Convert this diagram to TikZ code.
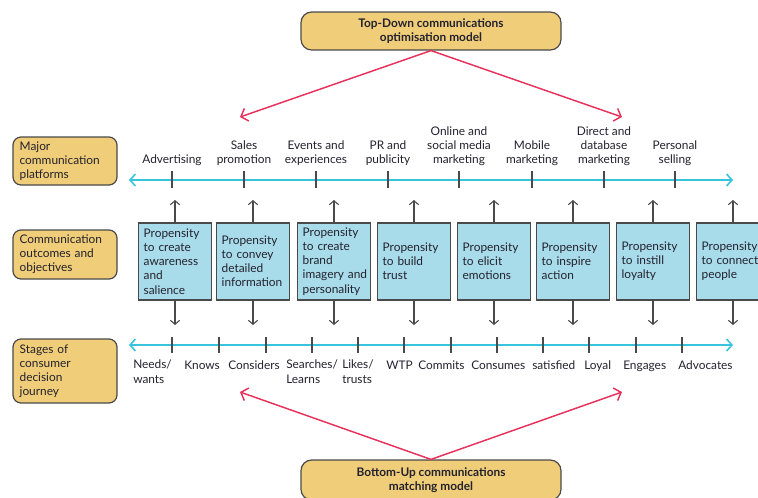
\documentclass[tikz,border=0pt]{standalone}
\usepackage{fontspec}
\setmainfont{Lato}
\usetikzlibrary{arrows.meta}
\definecolor{ybox}{HTML}{F0CD78}
\definecolor{bluebox}{HTML}{A9DCEA}
\definecolor{cyanl}{HTML}{38C4DC}
\definecolor{redl}{HTML}{E6325A}
\definecolor{txt}{HTML}{23222E}
\definecolor{bord}{HTML}{4A4A4A}
\begin{document}
\begin{tikzpicture}[x=0.75pt,y=-0.75pt,
  every node/.style={font=\fontsize{8.9}{10.6}\selectfont, text=txt},
  ylabel/.style={draw=bord, line width=0.9pt, fill=ybox, rounded corners=6pt,
    minimum width=78pt, text width=68pt, inner xsep=5pt, align=left},
  topbox/.style={draw=bord, line width=0.9pt, fill=ybox, rounded corners=8pt,
    minimum width=195pt, align=center, font=\bfseries\fontsize{8.9}{10.6}\selectfont},
  propbox/.style={draw=bord, line width=0.9pt, fill=bluebox, minimum width=54.75pt,
    minimum height=57.75pt, text width=47pt, inner xsep=3.8pt, align=left},
  axis/.style={draw=cyanl, line width=1.2pt,
    {Straight Barb[length=4pt,width=9pt]}-{Straight Barb[length=4pt,width=9pt]}},
  tick/.style={draw=bord, line width=0.8pt},
  vlink/.style={draw=bord, line width=0.8pt, -{Straight Barb[length=3pt,width=7pt]}},
  redarrow/.style={draw=redl, line width=1.1pt, -{Straight Barb[length=4.5pt,width=10pt]}},
  plat/.style={anchor=south, align=center, inner sep=0pt},
  stage/.style={anchor=base west, align=left, inner sep=0pt}
]
\useasboundingbox (0,0) rectangle (758,497);
\clip (0,0) rectangle (758,497);

% top and bottom model boxes
\node[topbox, minimum height=28.5pt] (top) at (431,31) {Top-Down communications\\optimisation model};
\node[topbox, minimum height=30pt] (bot) at (431,480) {Bottom-Up communications\\matching model};

% left category boxes
\node[ylabel, minimum height=36pt] (lab1) at (65,161) {Major\\communication\\platforms};
\node[ylabel, minimum height=36.75pt] (lab2) at (65,254.5) {Communication\\outcomes and\\objectives};
\node[ylabel, minimum height=48pt] (lab3) at (65,371) {Stages of\\consumer\\decision\\journey};

% top axis
\coordinate (a1l) at (129,180);
\coordinate (a1r) at (733,180);
\draw[axis] (a1l) -- (a1r);
\foreach \x/\n in {172/p1,244/p2,316/p3,388/p4,459/p5,532/p6,604/p7,675/p8}{
  \coordinate (\n t) at (\x,171);
  \coordinate (\n b) at (\x,188);
  \draw[tick] (\n t) -- (\n b);
}
\node[plat] (t1) at (172,166) {Advertising};
\node[plat] (t2) at (244,166) {Sales\\promotion};
\node[plat] (t3) at (316,166) {Events and\\experiences};
\node[plat] (t4) at (388,166) {PR and\\publicity};
\node[plat] (t5) at (459,166) {Online and\\social media\\marketing};
\node[plat] (t6) at (532,166) {Mobile\\marketing};
\node[plat] (t7) at (604,166) {Direct and\\database\\marketing};
\node[plat] (t8) at (675,166) {Personal\\selling};

% propensity boxes
\node[propbox] (b1) at (175,261.5) {Propensity\\to create\\awareness\\and\\salience};
\node[propbox] (b2) at (253,261.5) {Propensity\\to convey\\detailed\\information};
\node[propbox] (b3) at (334,261.5) {Propensity\\to create\\brand\\\mbox{imagery and}\\personality};
\node[propbox] (b4) at (414,261.5) {Propensity\\to build\\trust};
\node[propbox] (b5) at (494,261.5) {Propensity\\to elicit\\emotions};
\node[propbox] (b6) at (573,261.5) {Propensity\\to inspire\\action};
\node[propbox] (b7) at (653,261.5) {Propensity\\to instill\\loyalty};
\node[propbox] (b8) at (733,261.5) {Propensity\\to connect\\people};
\foreach \i/\x in {1/175,2/253,3/334,4/414,5/494,6/573,7/653,8/733}{
  \coordinate (u\i) at (\x,200);
  \coordinate (d\i) at (\x,325);
  \draw[vlink] (b\i.north) -- (u\i);
  \draw[vlink] (b\i.south) -- (d\i);
}

% bottom axis
\coordinate (a2l) at (129,345);
\coordinate (a2r) at (733,345);
\draw[axis] (a2l) -- (a2r);
\foreach \x/\n in {172/s1,219/s2,266/s3,312/s4,358/s5,404/s6,451/s7,497/s8,543/s9,589/s10,636/s11,682/s12}{
  \coordinate (\n t) at (\x,337);
  \coordinate (\n b) at (\x,353);
  \draw[tick] (\n t) -- (\n b);
}
\node[stage] (c1) at (133,383) {Needs/\\wants};
\node[stage] (c2) at (184,369) {Knows};
\node[stage] (c3) at (228,369) {Considers};
\node[stage] (c4) at (286,383) {Searches/\\Learns};
\node[stage] (c5) at (342,383) {Likes/\\trusts};
\node[stage] (c6) at (386,369) {WTP};
\node[stage] (c7) at (418,369) {Commits};
\node[stage] (c8) at (471,369) {Consumes};
\node[stage] (c9) at (532,369) {satisfied};
\node[stage] (c10) at (584,369) {Loyal};
\node[stage] (c11) at (623,369) {Engages};
\node[stage] (c12) at (678,369) {Advocates};

% red arrows
\coordinate (tl) at (240,117);
\coordinate (tr) at (622,117);
\coordinate (bl) at (240,392);
\coordinate (br) at (622,392);
\draw[redarrow] (top.south) -- (tl);
\draw[redarrow] (top.south) -- (tr);
\draw[redarrow] (bot.north) -- (bl);
\draw[redarrow] (bot.north) -- (br);
\end{tikzpicture}
\end{document}
